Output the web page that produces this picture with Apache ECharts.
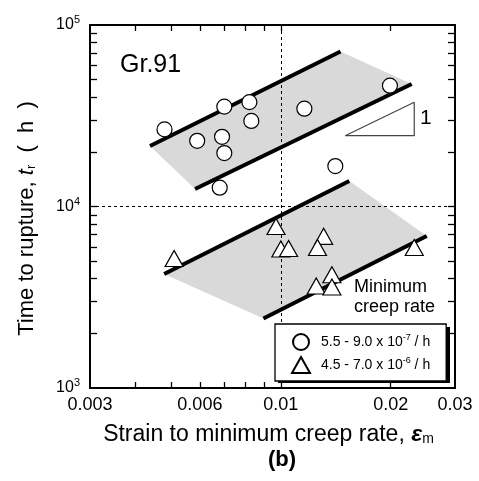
<!DOCTYPE html>
<html><head><meta charset="utf-8">
<script src="https://cdn.jsdelivr.net/npm/echarts@6/dist/echarts.min.js"></script>
<style>html,body{margin:0;padding:0;background:#fff}#c{width:479px;height:481px}</style>
</head><body><div id="c"></div>
<script>
// ---- data ----
const circleX = [0.0048, 0.0059, 0.0070, 0.0082, 0.0083, 0.0069, 0.0070, 0.0068, 0.0116, 0.0199, 0.0141];
const circleY = [26600, 23000, 35500, 37600, 29600, 24200, 19700, 12700, 34600, 46300, 16700];
const triX = [0.0051, 0.0097, 0.0100, 0.0105, 0.0131, 0.0126, 0.0232, 0.0138, 0.0125, 0.0138];
const triY = [5170, 7760, 5830, 5870, 6850, 5940, 5940, 4210, 3650, 3600];

const band1UpperX = [0.00438, 0.01457];
const band1UpperY = [21540, 71450];
const band1LowerX = [0.00582, 0.02283];
const band1LowerY = [12480, 47300];
const band2UpperX = [0.00479, 0.0154];
const band2UpperY = [4250, 13820];
const band2LowerX = [0.00896, 0.0251];
const band2LowerY = [2415, 6880];

const slopeX = [0.0150, 0.0232, 0.0232, 0.0150];
const slopeY = [24550, 37500, 24550, 24550];

const refLineX = 0.01;
const refLineY = 10000;

const xTickLabels = [0.003, 0.006, 0.01, 0.02, 0.03];
const xTicks = [0.004, 0.005, 0.006, 0.007, 0.008, 0.009, 0.01, 0.02];
const yTickLabels = [1000, 10000, 100000];
const yTicks = [2000, 3000, 4000, 5000, 6000, 7000, 8000, 9000, 10000,
                20000, 30000, 40000, 50000, 60000, 70000, 80000, 90000];

const seriesNames = ['5.5 - 9.0 x 10-7 / h', '4.5 - 7.0 x 10-6 / h'];
const legendBase = ['5.5 - 9.0 x 10', '4.5 - 7.0 x 10'];
const legendExp = ['-7', '-6'];
const legendTail = ' / h';

// ---- helpers ----
const FONT = '"Liberation Sans", Arial, Helvetica, sans-serif';
const pairs = (xs, ys) => xs.map((x, i) => [x, ys[i]]);
const bandItem = (ux, uy, lx, ly) => [ux[0], uy[0], ux[1], uy[1], lx[1], ly[1], lx[0], ly[0]];

const chart = echarts.init(document.getElementById('c'), null, {renderer: 'canvas'});

const axisCommon = {
  type: 'log', logBase: 10,
  axisLine: {show: true, lineStyle: {color: '#000', width: 2}},
  splitLine: {show: false},
  minorTick: {show: false},
  minorSplitLine: {show: false}
};
const tickStyle = {color: '#000', width: 1.3};

const option = {
  backgroundColor: '#fff',
  animation: false,
  textStyle: {fontFamily: FONT},
  grid: {left: 90, right: 24, top: 25, bottom: 93, containLabel: false},
  xAxis: [
    Object.assign({}, axisCommon, {
      position: 'bottom', min: 0.003, max: 0.03,
      axisTick: {show: true, inside: true, length: 6, lineStyle: tickStyle, customValues: xTicks},
      axisLabel: {show: true, customValues: xTickLabels, color: '#000', fontSize: 18, fontFamily: FONT, margin: 8,
        formatter: v => String(+(+v).toPrecision(3))},
      name: '{n|Strain to minimum creep rate, }{e|ε}{m|m}',
      nameLocation: 'middle', nameGap: 35,
      nameTextStyle: {padding: [0, 8, 0, 0], rich: {
        n: {fontSize: 23, fontFamily: FONT, color: '#000'},
        e: {fontSize: 23, fontFamily: FONT, fontStyle: 'italic', fontWeight: 'bold', color: '#000'},
        m: {fontSize: 14, fontFamily: FONT, color: '#000', padding: [9, 0, 0, 0]}
      }}
    }),
    Object.assign({}, axisCommon, {
      position: 'top', min: 0.003, max: 0.03,
      axisTick: {show: true, inside: true, length: 6, lineStyle: tickStyle, customValues: xTicks},
      axisLabel: {show: false}
    })
  ],
  yAxis: [
    Object.assign({}, axisCommon, {
      position: 'left', min: 1000, max: 100000,
      axisTick: {show: true, inside: true, length: 7, lineStyle: tickStyle, customValues: yTicks},
      axisLabel: {show: true, customValues: yTickLabels, margin: 10,
        formatter: v => '{b|10}{s|' + Math.round(Math.log10(v)) + '}',
        rich: {
          b: {fontSize: 16, fontFamily: FONT, color: '#000'},
          s: {fontSize: 11, fontFamily: FONT, color: '#000', padding: [0, 0, 10, 0]}
        }},
      name: '{n|Time to rupture, }{t|t}{r|r}{n|  (  h  )}',
      nameLocation: 'middle', nameGap: 52, nameRotate: 90,
      nameTextStyle: {padding: [0, 24, 0, 0], rich: {
        n: {fontSize: 22, fontFamily: FONT, color: '#000'},
        t: {fontSize: 22, fontFamily: FONT, fontStyle: 'italic', color: '#000'},
        r: {fontSize: 13, fontFamily: FONT, color: '#000', padding: [9, 0, 0, 0]}
      }}
    }),
    Object.assign({}, axisCommon, {
      position: 'right', min: 1000, max: 100000,
      axisTick: {show: true, inside: true, length: 7, lineStyle: tickStyle, customValues: yTicks},
      axisLabel: {show: false}
    })
  ],
  legend: {
    orient: 'vertical', left: 275, top: 324, z: 10,
    padding: [9, 16, 7, 16],
    itemWidth: 18, itemHeight: 16, itemGap: 5,
    backgroundColor: '#fff', borderColor: '#000', borderWidth: 1.3,
    data: seriesNames,
    formatter: name => {
      const i = seriesNames.indexOf(name);
      return '{t|' + legendBase[i] + '}{s|' + legendExp[i] + '}{u|' + legendTail + '}';
    },
    textStyle: {rich: {
      t: {fontSize: 14, fontFamily: FONT, color: '#000', lineHeight: 16, padding: [0, 0, 0, 6]},
      u: {fontSize: 14, fontFamily: FONT, color: '#000', lineHeight: 16},
      s: {fontSize: 9, fontFamily: FONT, color: '#000', padding: [0, 0, 8, 0]}
    }}
  },
  series: [
    {
      type: 'custom', name: 'band', silent: true, z: 1,
      renderItem: (params, api) => {
        const pts = [];
        for (let k = 0; k < 4; k++) pts.push(api.coord([api.value(2 * k), api.value(2 * k + 1)]));
        return {type: 'polygon', shape: {points: pts}, style: {fill: '#d9d9d9'}};
      },
      encode: {x: [0, 2, 4, 6], y: [1, 3, 5, 7]},
      data: [
        bandItem(band1UpperX, band1UpperY, band1LowerX, band1LowerY),
        bandItem(band2UpperX, band2UpperY, band2LowerX, band2LowerY)
      ]
    },
    {type: 'line', name: 'b1u', silent: true, z: 3, symbol: 'none', data: pairs(band1UpperX, band1UpperY), lineStyle: {color: '#000', width: 4, cap: 'butt'}},
    {type: 'line', name: 'b1l', silent: true, z: 3, symbol: 'none', data: pairs(band1LowerX, band1LowerY), lineStyle: {color: '#000', width: 4, cap: 'butt'}},
    {type: 'line', name: 'b2u', silent: true, z: 3, symbol: 'none', data: pairs(band2UpperX, band2UpperY), lineStyle: {color: '#000', width: 4, cap: 'butt'}},
    {type: 'line', name: 'b2l', silent: true, z: 3, symbol: 'none', data: pairs(band2LowerX, band2LowerY), lineStyle: {color: '#000', width: 4, cap: 'butt'}},
    {type: 'line', name: 'slope', silent: true, z: 3, symbol: 'none', data: pairs(slopeX, slopeY), lineStyle: {color: '#444', width: 1.2}},
    {
      type: 'line', name: 'ref', silent: true, z: 2, symbol: 'none', data: [],
      markLine: {
        silent: true, symbol: 'none', label: {show: false},
        lineStyle: {color: '#000', type: [3, 3], width: 1},
        data: [{xAxis: refLineX}, {yAxis: refLineY}]
      }
    },
    {
      type: 'scatter', name: seriesNames[0], z: 5, symbol: 'circle', symbolSize: 15,
      itemStyle: {color: '#fff', borderColor: '#000', borderWidth: 1.2, opacity: 1},
      data: pairs(circleX, circleY)
    },
    {
      type: 'scatter', name: seriesNames[1], z: 5, symbol: 'triangle', symbolSize: [18, 16],
      itemStyle: {color: '#fff', borderColor: '#000', borderWidth: 1.2, opacity: 1},
      data: pairs(triX, triY)
    }
  ],
  graphic: [
    {type: 'rect', z: 9, shape: {x: 278, y: 327, width: 172, height: 56}, style: {fill: '#000'}},
    {type: 'text', left: 120, top: 53, style: {text: 'Gr.91', font: '25px ' + FONT, fill: '#000'}},
    {type: 'text', left: 420, top: 108, style: {text: '1', font: '21px ' + FONT, fill: '#000'}},
    {type: 'text', left: 354, top: 277, style: {text: 'Minimum\ncreep rate', font: '18px ' + FONT, fill: '#000', align: 'center', lineHeight: 20}},
    {type: 'text', left: 268, top: 449, style: {text: '(b)', font: 'bold 22px ' + FONT, fill: '#000'}}
  ]
};
chart.setOption(option);
</script>
</body></html>
